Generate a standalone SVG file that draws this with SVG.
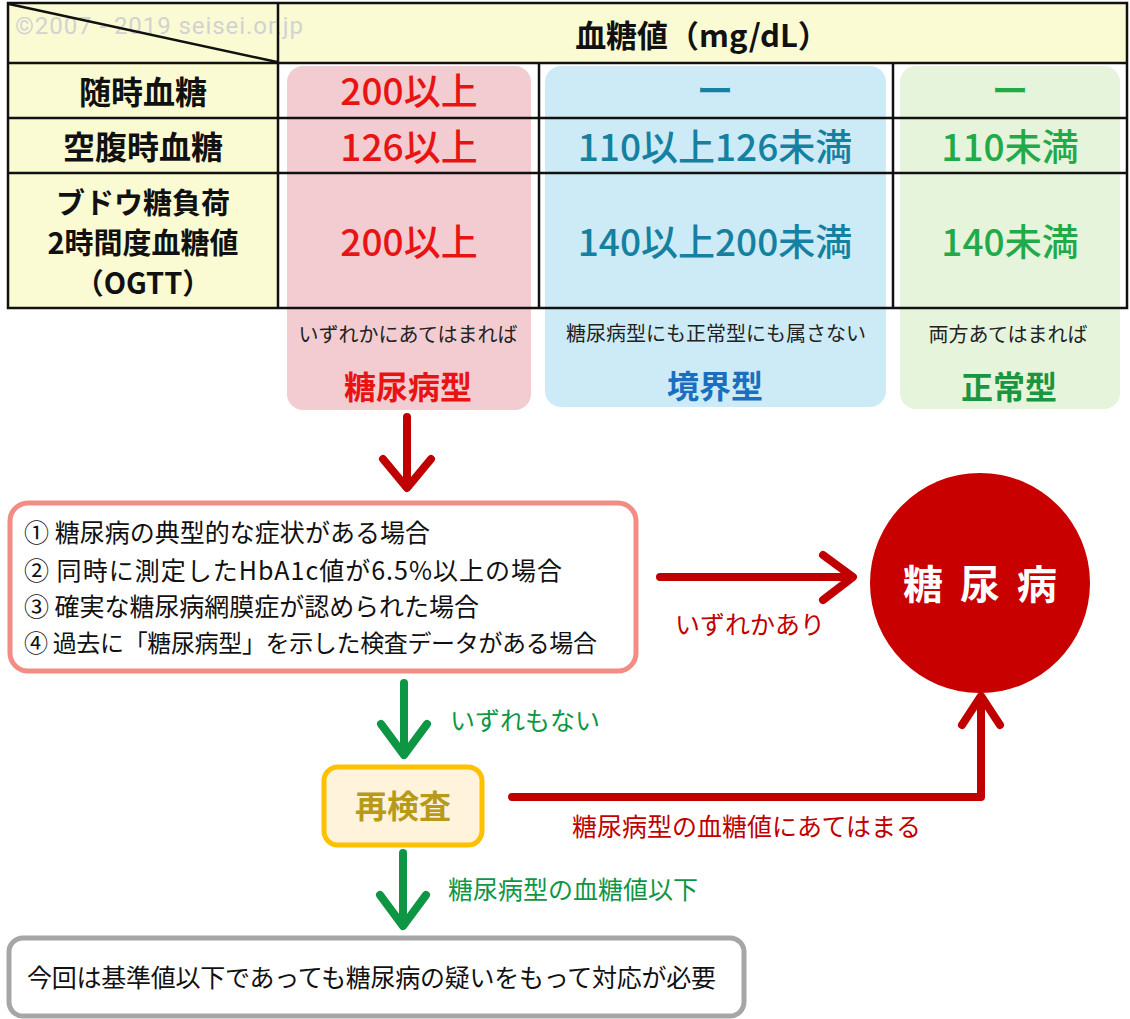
<svg xmlns="http://www.w3.org/2000/svg" width="1130" height="1019" viewBox="0 0 1130 1019">
<style>
text{font-family:"Noto Sans CJK JP","Noto Sans",sans-serif}
.lbl{font-size:32px;font-weight:bold;fill:#111;text-anchor:middle}
.lbl3{font-size:29px;font-weight:bold;fill:#111;text-anchor:middle}
.val{font-size:37px;font-weight:500;text-anchor:middle}
.sub{font-size:20px;fill:#222;text-anchor:middle}
.typ{font-size:32px;font-weight:bold;text-anchor:middle}
.ln{stroke:#111;stroke-width:2.5;fill:none}
.arw{fill:none;stroke-width:8;stroke-linecap:round;stroke-linejoin:round}
.red{stroke:#c00000}
.grn{stroke:#0f9645}
.edge{font-size:25px}
.cond{font-size:25px;fill:#111}
</style>
<rect width="1130" height="1019" fill="#fff"/>
<g id="table">
<rect x="8" y="3" width="1119" height="60" fill="#fafbd2"/>
<rect x="8" y="63" width="270" height="245" fill="#fafbd2"/>
<text x="15" y="34" textLength="288" style="font-family:Roboto,'Liberation Sans',sans-serif;font-size:24px;fill:#d2d2d2">©2007 - 2019 seisei.or.jp</text>
<line class="ln" x1="9" y1="4" x2="277" y2="62"/>
<text x="702" y="47" style="font-size:31px;font-weight:bold;fill:#111;text-anchor:middle">血糖値（mg/dL）</text>
</g>
<g id="col-diabetic">
<rect x="287" y="66" width="244" height="344" rx="16" fill="#f2ccd0"/>
<text class="val" x="409" y="105" fill="#e81414">200以上</text>
<text class="val" x="409" y="161" fill="#e81414">126以上</text>
<text class="val" x="409" y="256" fill="#e81414">200以上</text>
<text class="sub" x="408" y="342">いずれかにあてはまれば</text>
<text class="typ" x="408" y="399" fill="#e81414">糖尿病型</text>
</g>
<g id="col-border">
<rect x="545" y="66" width="341" height="341" rx="16" fill="#cdebf6"/>
<text class="val" x="715" y="105" fill="#1580a0">ー</text>
<text class="val" x="715" y="161" fill="#1580a0">110以上126未満</text>
<text class="val" x="715" y="256" fill="#1580a0">140以上200未満</text>
<text class="sub" x="716" y="341">糖尿病型にも正常型にも属さない</text>
<text class="typ" x="715" y="398" fill="#1a6fbf">境界型</text>
</g>
<g id="col-normal">
<rect x="900" y="66" width="220" height="343" rx="16" fill="#e7f4dc"/>
<text class="val" x="1010" y="105" fill="#22aa48">ー</text>
<text class="val" x="1010" y="161" fill="#22aa48">110未満</text>
<text class="val" x="1010" y="256" fill="#22aa48">140未満</text>
<text class="sub" x="1008" y="342">両方あてはまれば</text>
<text class="typ" x="1009" y="399" fill="#1a9641">正常型</text>
</g>
<g id="table-lines">
<rect class="ln" x="8" y="3" width="1119" height="305"/>
<line class="ln" x1="8" y1="63" x2="1127" y2="63"/>
<line class="ln" x1="8" y1="118" x2="1127" y2="118"/>
<line class="ln" x1="8" y1="173" x2="1127" y2="173"/>
<line class="ln" x1="278" y1="3" x2="278" y2="308"/>
<line class="ln" x1="539" y1="63" x2="539" y2="308"/>
<line class="ln" x1="893" y1="63" x2="893" y2="308"/>
<text class="lbl" x="143" y="104">随時血糖</text>
<text class="lbl" x="143" y="159">空腹時血糖</text>
<text class="lbl3" x="143" y="214">ブドウ糖負荷</text>
<text class="lbl3" x="143" y="254">2時間度血糖値</text>
<text class="lbl3" x="143" y="294">（OGTT）</text>
</g>
<g id="conditions">
<rect x="10" y="503" width="626" height="168" rx="18" fill="#fff" stroke="#f28c84" stroke-width="5"/>
<text class="cond" x="24" y="542" textLength="406">① 糖尿病の典型的な症状がある場合</text>
<text class="cond" x="24" y="580" textLength="538">② 同時に測定したHbA1c値が6.5%以上の場合</text>
<text class="cond" x="24" y="616" textLength="455">③ 確実な糖尿病網膜症が認められた場合</text>
<text x="24" y="652" textLength="573" style="font-size:24px;fill:#111">④ 過去に「糖尿病型」を示した検査データがある場合</text>
</g>
<g id="diabetes">
<circle cx="980" cy="583" r="110" fill="#c80000"/>
<text x="923 980 1037" y="599" style="font-size:40px;font-weight:bold;fill:#fff;text-anchor:middle">糖尿病</text>
</g>
<g id="retest">
<rect x="324" y="767" width="158" height="78" rx="14" fill="#fff3dc" stroke="#ffc000" stroke-width="5"/>
<text x="403" y="818" style="font-size:32px;font-weight:bold;fill:#b89a1a;text-anchor:middle">再検査</text>
</g>
<g id="action">
<rect x="9" y="938" width="735" height="78" rx="14" fill="#fff" stroke="#a6a6a6" stroke-width="5"/>
<text x="27" y="987" textLength="689" style="font-size:25px;fill:#111">今回は基準値以下であっても糖尿病の疑いをもって対応が必要</text>
</g>
<g id="connectors">
<path class="arw red" d="M407 417V486M383 459L407 488L431 459"/>
<path class="arw red" d="M660 577H850M823 555L853 577L823 600"/>
<path class="arw red" d="M512 797H981V698M962 725L981 696L1000 725"/>
<path class="arw grn" d="M404 683V752M381 724L404 755L427 724"/>
<path class="arw grn" d="M403 853V923M380 895L403 926L426 895"/>
<text class="edge" x="675" y="634" fill="#c00000">いずれかあり</text>
<text class="edge" x="450" y="730" fill="#0f9645">いずれもない</text>
<text class="edge" x="572" y="836" fill="#c00000">糖尿病型の血糖値にあてはまる</text>
<text class="edge" x="448" y="899" fill="#0f9645">糖尿病型の血糖値以下</text>
</g>
</svg>
